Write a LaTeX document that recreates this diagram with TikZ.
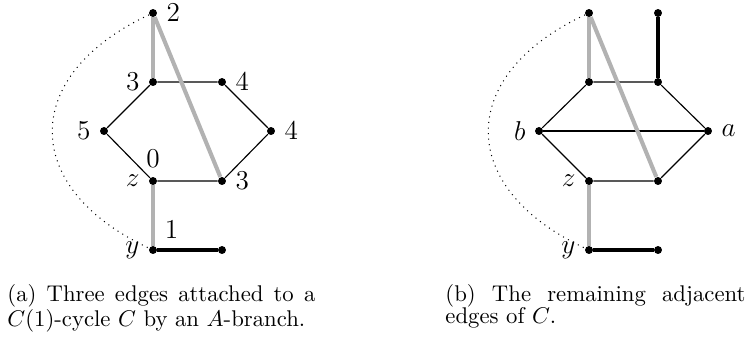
\documentclass[tikz,border=0pt]{standalone}
\begin{document}
\begin{tikzpicture}[x=0.44pt,y=-0.44pt,
  vtx/.style={circle,fill=black,inner sep=0pt,minimum size=3.5pt},
  lbl/.style={label distance=0.5pt,font=\large},
  thinedge/.style={line width=0.5pt},
  grayedge/.style={line width=1.8pt,draw=black!30},
  blackedge/.style={line width=1.7pt},
  arcdot/.style={dotted,line width=0.45pt},
  capt/.style={anchor=base west,inner sep=0pt,align=justify,font=\fontsize{10}{9.7}\selectfont}]
\useasboundingbox (0,0) rectangle (755,338);
% ---- left graph ----
\node[vtx,label={[lbl]right:$2$}] (a2) at (153,13) {};
\node[vtx,label={[lbl]left:$3$}] (a3) at (153,82) {};
\node[vtx,label={[lbl]right:$4$}] (a4) at (222,82) {};
\node[vtx,label={[lbl]left:$5$}] (a5) at (104,131) {};
\node[vtx,label={[lbl]right:$4$}] (a4r) at (271,131) {};
\node[vtx,label={[lbl]above:$0$},label={[lbl]left:$z$}] (az) at (153,181) {};
\node[vtx,label={[lbl]right:$3$}] (a3b) at (222,181) {};
\node[vtx,label={[lbl]left:$y$},label={[lbl]above right:$1$}] (ay) at (153,250) {};
\node[vtx] (ae) at (222,250) {};
\draw[thinedge] (a3) -- (a4) -- (a4r) -- (a3b) -- (az) -- (a5) -- (a3);
\draw[grayedge] (a2) -- (a3);
\draw[grayedge] (a2) -- (a3b);
\draw[grayedge] (az) -- (ay);
\draw[blackedge] (ay) -- (ae);
\draw[arcdot] (a2) .. controls +(-133,62) and +(-133,-62) .. (ay);
% ---- right graph ----
\node[vtx] (b1) at (589,13) {};
\node[vtx] (b2) at (658,13) {};
\node[vtx] (b3) at (589,82) {};
\node[vtx] (b4) at (658,82) {};
\node[vtx,label={[lbl]left:$b$}] (bb) at (539,131) {};
\node[vtx,label={[lbl]right:$a$}] (ba) at (708,131) {};
\node[vtx,label={[lbl]left:$z$}] (bz) at (589,181) {};
\node[vtx] (b5) at (658,181) {};
\node[vtx,label={[lbl]left:$y$}] (by) at (589,250) {};
\node[vtx] (be) at (658,250) {};
\draw[thinedge] (b3) -- (b4) -- (ba) -- (b5) -- (bz) -- (bb) -- (b3);
\draw[thinedge] (bb) -- (ba);
\draw[grayedge] (b1) -- (b3);
\draw[grayedge] (b1) -- (b5);
\draw[grayedge] (bz) -- (by);
\draw[blackedge] (b2) -- (b4);
\draw[blackedge] (by) -- (be);
\draw[arcdot] (b1) .. controls +(-133,62) and +(-133,-62) .. (by);
% ---- captions ----
\node[capt,text width=135.5pt] (capa) at (7,301) {(a) Three edges attached to a $C(1)$-cycle $C$ by an $A$-branch.};
\node[capt,text width=132pt] (capb) at (445,301) {(b) The remaining adjacent edges of $C$.};
\end{tikzpicture}
\end{document}
